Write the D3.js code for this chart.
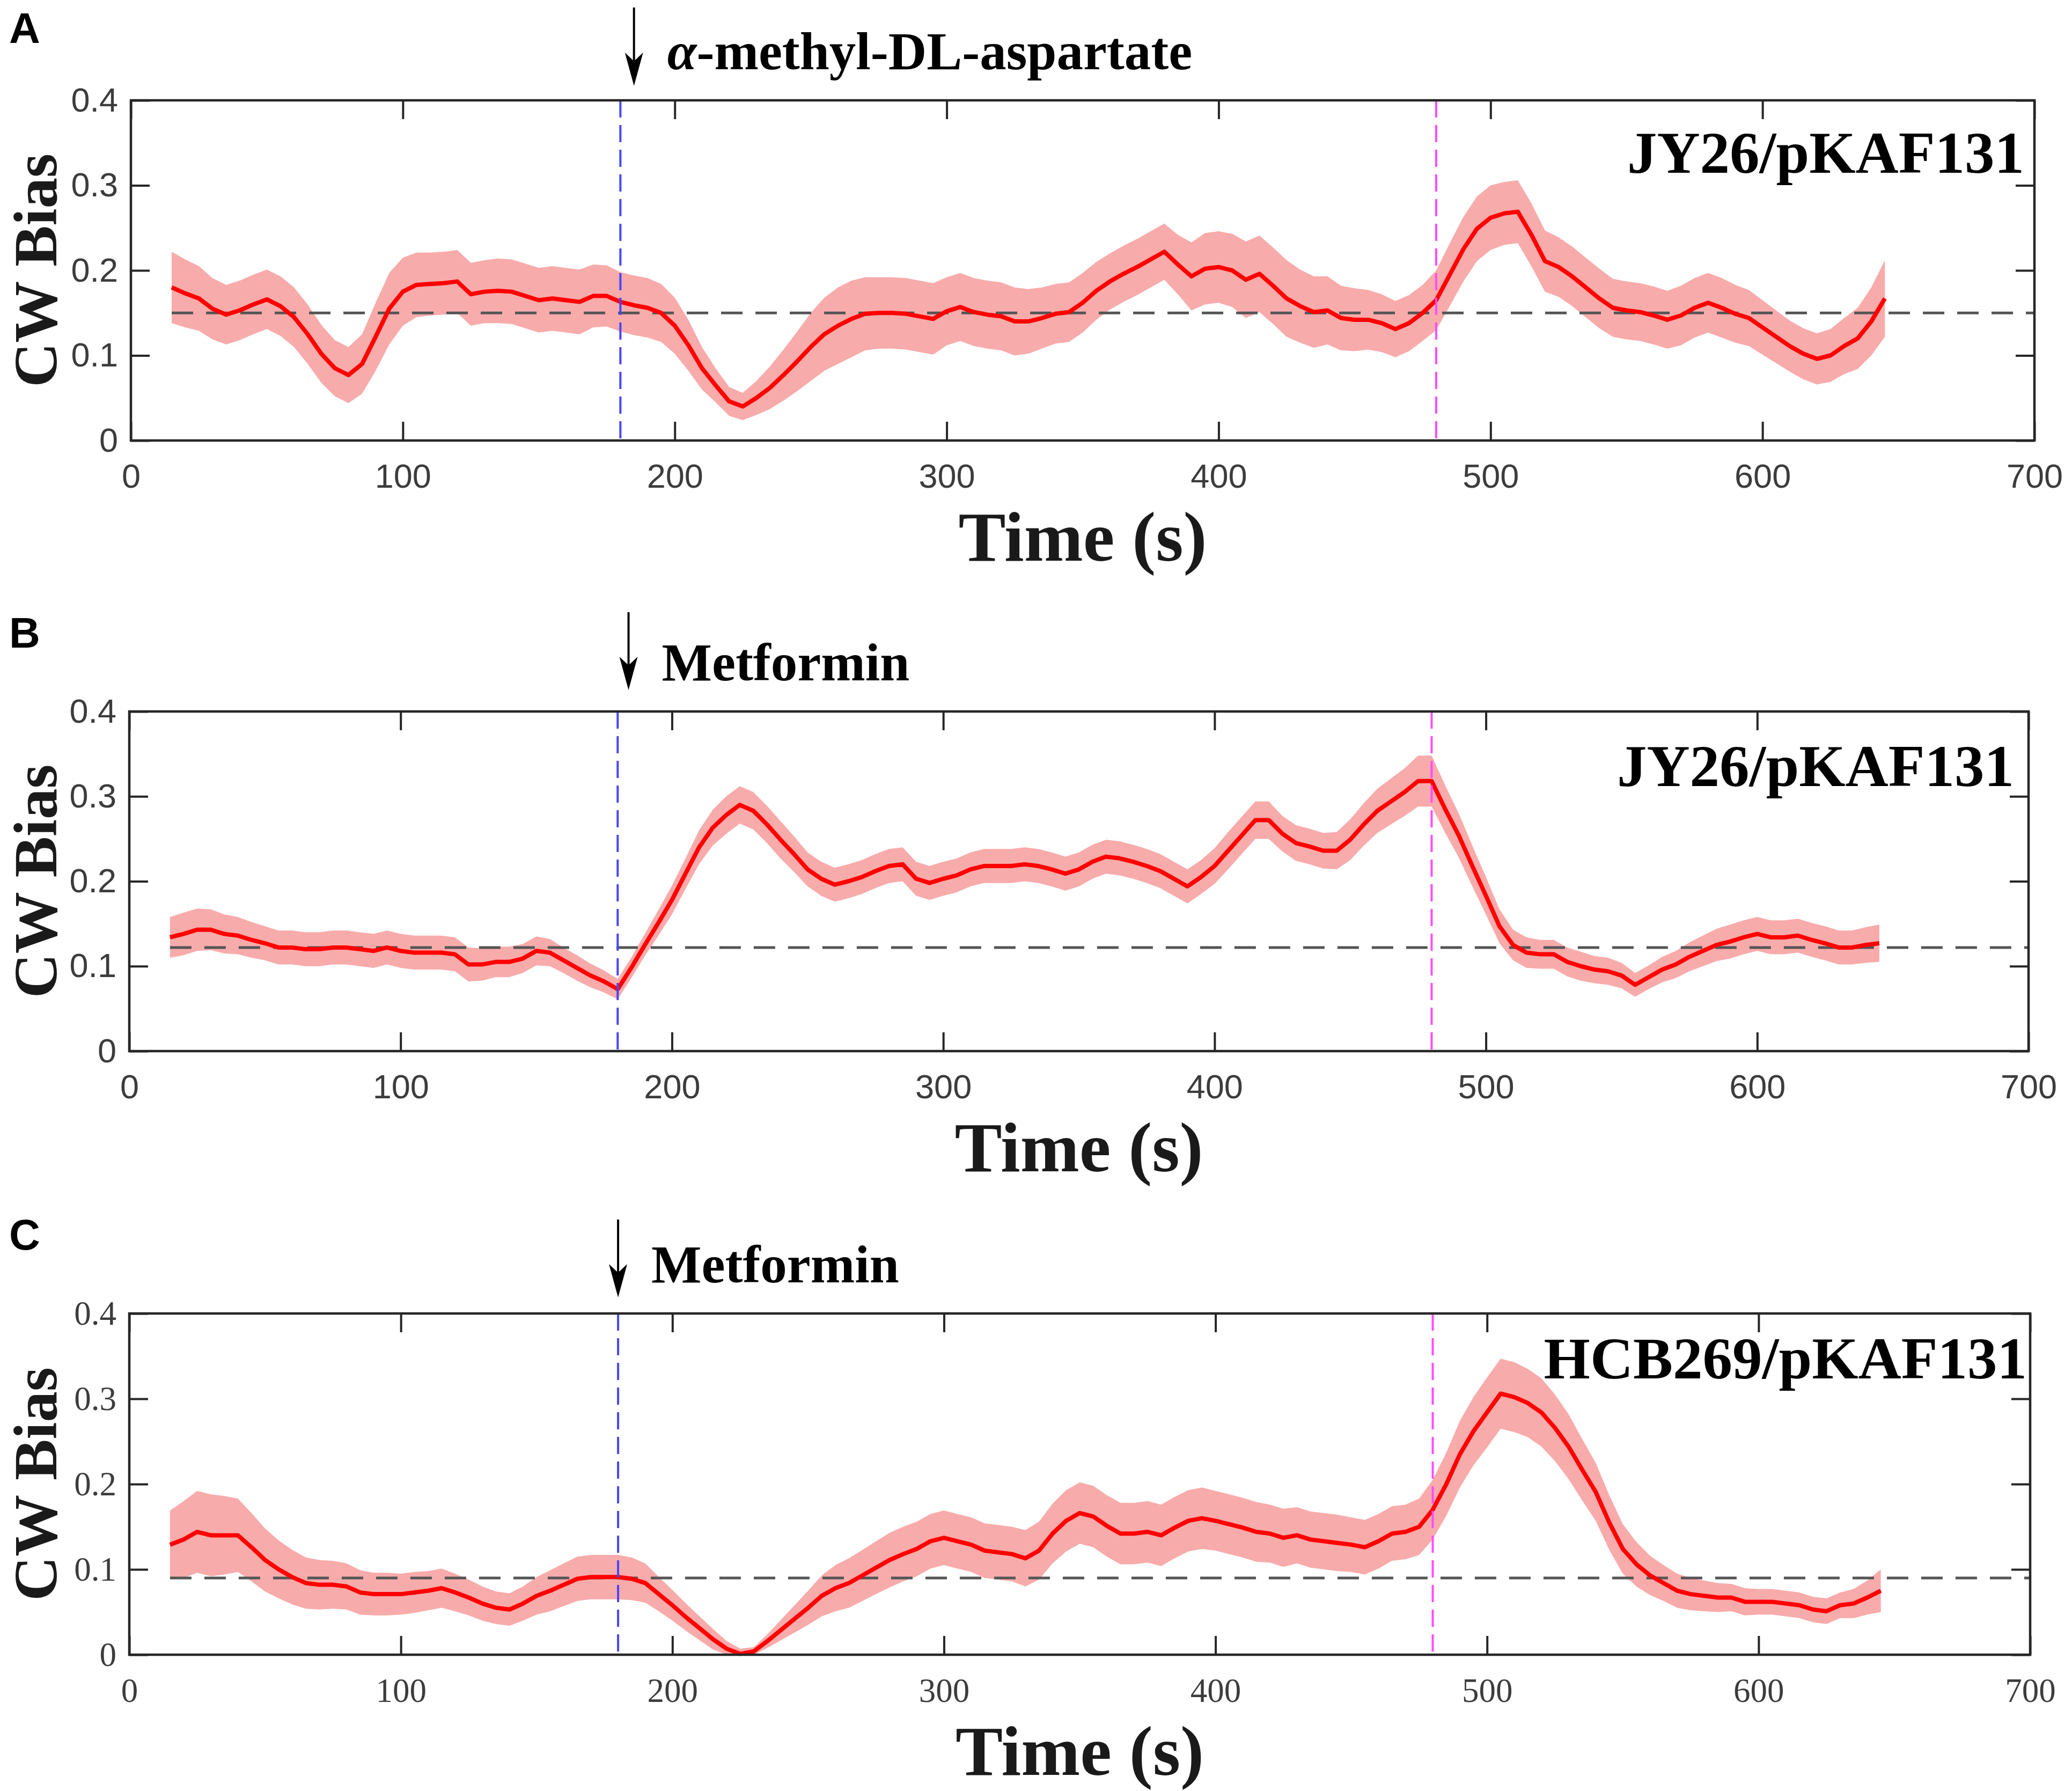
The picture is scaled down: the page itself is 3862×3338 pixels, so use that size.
<!DOCTYPE html>
<html>
<head>
<meta charset="utf-8">
<script src="https://cdn.jsdelivr.net/npm/d3@7"></script>
<style>
  body { margin: 0; background: #ffffff; }
  svg { display: block; }
</style>
</head>
<body>
<div id="chart"></div>
<script>
// ---- data ----
const times = [15,20,25,30,35,40,45,50,55,60,65,70,75,80,85,90,95,100,105,110,
  115,120,125,130,135,140,145,150,155,160,165,170,175,180,185,190,195,200,205,210,
  215,220,225,230,235,240,245,250,255,260,265,270,275,280,285,290,295,300,305,310,
  315,320,325,330,335,340,345,350,355,360,365,370,375,380,385,390,395,400,405,410,
  415,420,425,430,435,440,445,450,455,460,465,470,475,480,485,490,495,500,505,510,
  515,520,525,530,535,540,545,550,555,560,565,570,575,580,585,590,595,600,605,610,
  615,620,625,630,635,640,645];

const meanA = [.180,.173,.167,.155,.148,.153,.160,.166,.158,.145,
  .125,.102,.085,.077,.090,.122,.155,.175,.183,.184,
  .185,.187,.172,.175,.176,.175,.170,.165,.167,.165,
  .163,.170,.170,.163,.159,.156,.150,.135,.112,.085,
  .065,.046,.040,.050,.062,.077,.093,.110,.125,.135,
  .143,.149,.150,.150,.149,.146,.143,.152,.157,.151,
  .148,.146,.140,.140,.144,.149,.151,.162,.176,.187,
  .196,.204,.213,.222,.207,.193,.202,.204,.200,.189,
  .196,.182,.167,.158,.151,.153,.144,.142,.142,.138,
  .131,.138,.150,.165,.195,.225,.249,.262,.267,.269,
  .242,.211,.204,.193,.180,.167,.156,.153,.151,.147,
  .142,.147,.156,.162,.156,.149,.144,.133,.122,.111,
  .102,.096,.100,.111,.120,.140,.167];
const bandA = [.042,.040,.038,.036,.035,.035,.035,.035,.035,.035,
  .035,.034,.033,.033,.035,.040,.042,.040,.038,.037,
  .037,.037,.037,.037,.038,.038,.038,.038,.038,.038,
  .038,.037,.036,.035,.035,.035,.034,.033,.030,.025,
  .020,.017,.016,.020,.025,.030,.035,.040,.043,.045,
  .045,.043,.042,.042,.042,.042,.042,.040,.040,.040,
  .040,.040,.040,.038,.036,.035,.035,.035,.034,.033,
  .033,.033,.033,.033,.035,.040,.042,.042,.043,.045,
  .045,.045,.045,.043,.042,.040,.038,.037,.035,.034,
  .033,.033,.033,.035,.037,.038,.038,.038,.037,.037,
  .037,.036,.035,.035,.035,.035,.034,.034,.034,.034,
  .034,.035,.035,.035,.035,.034,.033,.032,.031,.030,
  .030,.030,.031,.033,.036,.040,.045];

const meanB = [.134,.138,.143,.143,.138,.136,.131,.127,.122,.122,
  .120,.120,.122,.122,.120,.118,.122,.118,.116,.116,
  .116,.114,.102,.102,.105,.105,.109,.118,.116,.107,
  .098,.089,.082,.073,.098,.125,.151,.178,.209,.240,
  .263,.278,.290,.283,.267,.249,.232,.214,.203,.196,
  .200,.205,.212,.218,.220,.203,.198,.203,.207,.214,
  .218,.218,.218,.220,.218,.214,.209,.214,.223,.229,
  .227,.223,.218,.212,.203,.194,.205,.218,.236,.254,
  .272,.272,.256,.245,.241,.236,.236,.249,.267,.283,
  .294,.305,.318,.318,.285,.254,.218,.183,.147,.125,
  .116,.114,.114,.105,.100,.096,.094,.089,.078,.087,
  .096,.102,.111,.118,.125,.129,.134,.138,.134,.134,
  .136,.131,.127,.122,.122,.125,.127];
const bandB = [.024,.025,.025,.024,.023,.022,.021,.020,.020,.020,
  .020,.020,.020,.020,.020,.020,.020,.020,.020,.020,
  .020,.020,.020,.019,.018,.018,.017,.017,.016,.015,
  .015,.014,.013,.012,.012,.013,.015,.017,.018,.020,
  .021,.022,.022,.022,.022,.022,.021,.020,.020,.020,
  .020,.020,.020,.020,.020,.020,.020,.020,.020,.020,
  .020,.020,.020,.020,.020,.020,.020,.020,.020,.020,
  .020,.020,.020,.020,.020,.020,.020,.021,.022,.022,
  .022,.022,.021,.021,.021,.021,.022,.024,.025,.026,
  .027,.028,.030,.030,.028,.026,.024,.022,.020,.018,
  .018,.017,.017,.017,.017,.016,.016,.015,.014,.014,
  .015,.016,.017,.018,.019,.020,.020,.020,.020,.020,
  .020,.020,.020,.020,.020,.021,.022];

const meanC = [.129,.135,.144,.140,.140,.140,.126,.111,.100,.091,
  .084,.082,.082,.080,.073,.071,.071,.071,.073,.075,
  .078,.073,.067,.060,.055,.053,.060,.069,.075,.082,
  .089,.091,.091,.091,.089,.084,.071,.058,.044,.031,
  .018,.007,.001,.004,.016,.029,.042,.055,.069,.078,
  .084,.093,.102,.111,.118,.124,.133,.137,.133,.129,
  .122,.120,.118,.113,.122,.142,.157,.166,.162,.151,
  .142,.142,.144,.140,.149,.157,.160,.157,.153,.149,
  .144,.142,.137,.140,.135,.133,.131,.129,.126,.133,
  .142,.144,.150,.170,.200,.235,.262,.284,.306,.302,
  .295,.284,.266,.244,.217,.191,.155,.124,.106,.093,
  .084,.075,.071,.069,.067,.067,.062,.062,.062,.060,
  .058,.053,.051,.058,.060,.067,.075];
const bandC = [.040,.045,.048,.048,.046,.043,.040,.037,.034,.032,
  .030,.029,.028,.027,.026,.025,.025,.024,.024,.023,
  .023,.022,.021,.020,.019,.019,.020,.022,.024,.025,
  .026,.026,.026,.026,.025,.023,.020,.018,.016,.014,
  .012,.009,.006,.005,.008,.012,.016,.020,.024,.027,
  .029,.030,.031,.032,.032,.032,.032,.032,.032,.032,
  .032,.032,.032,.033,.034,.035,.036,.036,.036,.036,
  .036,.036,.036,.036,.036,.036,.036,.035,.035,.035,
  .035,.034,.034,.033,.033,.033,.033,.032,.032,.032,
  .032,.032,.033,.035,.037,.039,.040,.041,.041,.041,
  .040,.040,.039,.038,.036,.034,.032,.029,.026,.023,
  .021,.020,.019,.018,.017,.016,.016,.015,.015,.015,
  .015,.015,.015,.015,.017,.020,.025];

const baselines = [0.15, 0.122, 0.09];
const stimulusTimes = [180, 480];       // blue and magenta markers
const arrowTimes = [185, 184, 180];
const panelLetters = ["A", "B", "C"];
const stimulusLabels = ["\u03b1-methyl-DL-aspartate", "Metformin", "Metformin"];
const strainLabels = ["JY26/pKAF131", "JY26/pKAF131", "HCB269/pKAF131"];
const xTicks = [0, 100, 200, 300, 400, 500, 600, 700];
const yTicks = [0, 0.1, 0.2, 0.3, 0.4];
const yTickLabels = ["0", "0.1", "0.2", "0.3", "0.4"];

// ---- layout ----
const W = 3862, H = 3338;
const serif = "'Liberation Serif', 'Times New Roman', serif";
const sans = "'Liberation Sans', Arial, sans-serif";
const axisColor = "#262626";

const panels = [
  { left: 244, right: 3792, top: 187, bottom: 821, tickFont: sans, labelEnd: 3773, labelBase: 135,
    arrowTop: -173, arrowTip: -27, mean: meanA, band: bandA },
  { left: 241, right: 3781, top: 1326, bottom: 1959, tickFont: sans, labelEnd: 3754, labelBase: 139,
    arrowTop: -185, arrowTip: -40, mean: meanB, band: bandB },
  { left: 241, right: 3784, top: 2448, bottom: 3084, tickFont: serif, labelEnd: 3778, labelBase: 121,
    arrowTop: -175, arrowTip: -30, mean: meanC, band: bandC }
];

const svg = d3.select("#chart").append("svg")
  .attr("width", W).attr("height", H)
  .attr("viewBox", `0 0 ${W} ${H}`);

panels.forEach((p, i) => {
  const w = p.right - p.left, h = p.bottom - p.top;
  const x = d3.scaleLinear().domain([0, 700]).range([0, w]);
  const y = d3.scaleLinear().domain([0, 0.4]).range([h, 0]);
  const g = svg.append("g").attr("transform", `translate(${p.left},${p.top})`);

  const rows = times.map((t, k) => ({ t, m: p.mean[k], b: p.band[k] }));

  // shaded band
  g.append("path")
    .datum(rows)
    .attr("fill", "#f8abab")
    .attr("d", d3.area().x(d => x(d.t)).y0(d => y(Math.max(0, d.m - d.b))).y1(d => y(d.m + d.b)));

  // baseline dashed line
  g.append("line")
    .attr("x1", x(15)).attr("x2", x(700))
    .attr("y1", y(baselines[i])).attr("y2", y(baselines[i]))
    .attr("stroke", "#555555").attr("stroke-width", 5)
    .attr("stroke-dasharray", "40,24");

  // mean line
  g.append("path")
    .datum(rows)
    .attr("fill", "none")
    .attr("stroke", "#ff0000")
    .attr("stroke-width", 8)
    .attr("stroke-linejoin", "round")
    .attr("d", d3.line().x(d => x(d.t)).y(d => y(d.m)));

  // stimulus on/off markers
  g.selectAll(".stim")
    .data(stimulusTimes)
    .join("line")
    .attr("class", "stim")
    .attr("x1", d => x(d)).attr("x2", d => x(d))
    .attr("y1", 0).attr("y2", h)
    .attr("stroke", (d, k) => k === 0 ? "#4646ff" : "#ff4cff")
    .attr("stroke-width", 4)
    .attr("stroke-dasharray", "32,14");

  // axes (MATLAB-style box with inward ticks)
  const bottomAxis = d3.axisBottom(x).tickValues(xTicks).tickSize(-35).tickPadding(43).tickFormat(d3.format("d"));
  const topAxis = d3.axisTop(x).tickValues(xTicks).tickSize(-35).tickFormat("");
  const leftAxis = d3.axisLeft(y).tickValues(yTicks).tickSize(-35).tickPadding(24)
    .tickFormat((d, k) => yTickLabels[k]);
  const rightAxis = d3.axisRight(y).tickValues(yTicks).tickSize(-35).tickFormat("");

  const styleAxis = sel => {
    sel.select(".domain").remove();
    sel.selectAll(".tick line").attr("stroke", axisColor).attr("stroke-width", 4);
    sel.selectAll(".tick text").attr("fill", "#3c3c3c")
      .style("font-family", p.tickFont).style("font-size", "63px");
  };
  g.append("g").attr("transform", `translate(0,${h})`).call(bottomAxis).call(styleAxis);
  g.append("g").call(topAxis).call(styleAxis);
  g.append("g").call(leftAxis).call(styleAxis);
  g.append("g").attr("transform", `translate(${w},0)`).call(rightAxis).call(styleAxis);

  g.append("rect")
    .attr("width", w).attr("height", h)
    .attr("fill", "none").attr("stroke", axisColor).attr("stroke-width", 4.5);

  // axis titles
  g.append("text")
    .attr("x", w / 2).attr("y", h + 224)
    .attr("text-anchor", "middle")
    .style("font-family", serif).style("font-weight", "bold").style("font-size", "132px")
    .attr("fill", "#1a1a1a")
    .text("Time (s)");

  g.append("text")
    .attr("transform", `translate(${105 - p.left},${h / 2}) rotate(-90)`)
    .attr("text-anchor", "middle")
    .style("font-family", serif).style("font-weight", "bold").style("font-size", "115px")
    .attr("fill", "#1a1a1a")
    .text("CW Bias");

  // strain label
  svg.append("text")
    .attr("x", p.labelEnd).attr("y", p.top + p.labelBase)
    .attr("text-anchor", "end")
    .style("font-family", serif).style("font-weight", "bold").style("font-size", "111px")
    .attr("fill", "#000")
    .text(strainLabels[i]);

  // panel letter
  svg.append("text")
    .attr("x", 17).attr("y", p.top - 107 - (i > 0 ? 12 : 0))
    .style("font-family", sans).style("font-weight", "bold").style("font-size", "80px")
    .attr("fill", "#000")
    .text(panelLetters[i]);

  // stimulus arrow and label
  const ax = x(arrowTimes[i]);
  g.append("line")
    .attr("x1", ax).attr("x2", ax)
    .attr("y1", p.arrowTop).attr("y2", p.arrowTip - 40)
    .attr("stroke", "#000").attr("stroke-width", 4);
  g.append("path")
    .attr("d", `M${ax},${p.arrowTip} L${ax - 17},${p.arrowTip - 62} L${ax},${p.arrowTip - 46} L${ax + 17},${p.arrowTip - 62} Z`)
    .attr("fill", "#000");
  const lbl = g.append("text")
    .attr("x", ax + 62).attr("y", -58)
    .style("font-family", serif).style("font-weight", "bold").style("font-size", "99px")
    .attr("fill", "#000");
  if (i === 0) {
    lbl.append("tspan").style("font-style", "italic").text(stimulusLabels[i].slice(0, 1));
    lbl.append("tspan").text(stimulusLabels[i].slice(1));
  } else {
    lbl.text(stimulusLabels[i]);
  }
});
</script>
</body>
</html>
